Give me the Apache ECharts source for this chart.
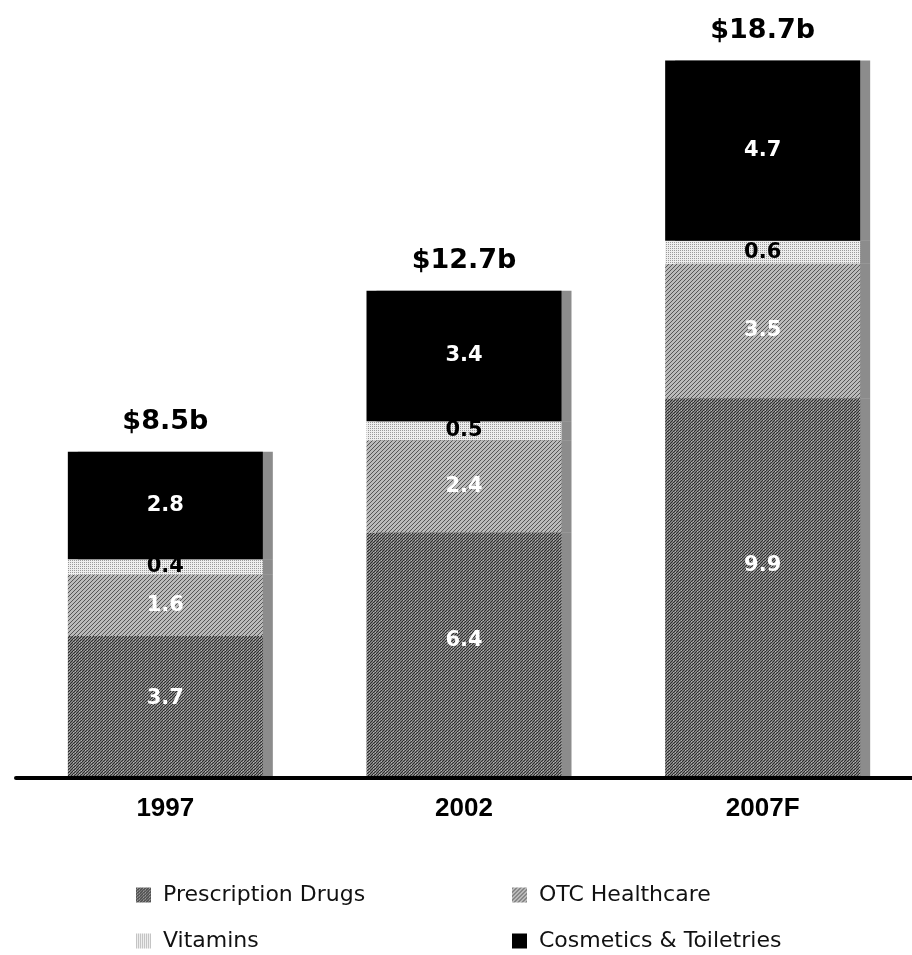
<!DOCTYPE html>
<html>
<head>
<meta charset="utf-8">
<script src="https://cdn.jsdelivr.net/npm/echarts@6/dist/echarts.min.js"></script>
<style>
  html, body { margin: 0; padding: 0; background: #fff; }
  #chart { width: 912px; height: 955px; }
</style>
</head>
<body>
<div id="chart"></div>
<script>
var years = ['1997', '2002', '2007F']
var prescription = [3.7, 6.4, 9.9]
var otc = [1.6, 2.4, 3.5]
var vitamins = [0.4, 0.5, 0.6]
var cosmetics = [2.8, 3.4, 4.7]
var totalLabels = ['$8.5b', '$12.7b', '$18.7b']

var chart = echarts.init(document.getElementById('chart'))

var boldFont = "'DejaVu Sans', Verdana, sans-serif"

// small tiled canvas used as a dithered fill
function makePattern (size, base, dots) {
  var c = document.createElement('canvas')
  c.width = size
  c.height = size
  var ctx = c.getContext('2d')
  ctx.fillStyle = base
  ctx.fillRect(0, 0, size, size)
  for (var y = 0; y < size; y++) {
    for (var x = 0; x < size; x++) {
      var col = dots(x, y)
      if (col) {
        ctx.fillStyle = col
        ctx.fillRect(x, y, 1, 1)
      }
    }
  }
  return { image: c, repeat: 'repeat' }
}

var rxFill = makePattern(6, '#7e7e7e', function (x, y) {
  if ((x + y) % 3 === 0) return '#2c2c2c'
  if ((x + 2 * y) % 6 === 1) return '#b4b4b4'
  return null
})
var otcFill = makePattern(8, '#bababa', function (x, y) {
  if ((x + y) % 4 === 0) return '#555555'
  return null
})
var vitFill = makePattern(4, '#eeeeee', function (x, y) {
  if (x % 2 === 0 && y % 2 === 0) return '#9a9a9a'
  return null
})

function barStyle (color) {
  return {
    color: color,
    shadowColor: 'rgba(0,0,0,0.45)',
    shadowOffsetX: 10,
    shadowOffsetY: 0,
    shadowBlur: 0
  }
}

function insideLabel (color) {
  return {
    show: true,
    position: 'inside',
    color: color,
    fontFamily: boldFont,
    fontWeight: 'bold',
    fontSize: 21
  }
}

var legendText = {
  fontFamily: boldFont,
  fontSize: 22,
  color: '#111',
  lineHeight: 22,
  padding: [0, 0, 0, 7]
}

var rxLabel = insideLabel('#fff')
rxLabel.position = ['50%', '44%']
rxLabel.align = 'center'
rxLabel.verticalAlign = 'middle'

var option = {
  backgroundColor: '#fff',
  animation: false,
  grid: { left: 16, right: 0, top: 49, height: 729 },
  xAxis: {
    type: 'category',
    data: years,
    z: 10,
    axisLine: { lineStyle: { color: '#000', width: 4 } },
    axisTick: { show: false },
    axisLabel: {
      margin: 18,
      color: '#000',
      fontFamily: "'Liberation Sans', Arial, sans-serif",
      fontWeight: 'bold',
      fontSize: 26
    }
  },
  yAxis: {
    type: 'value',
    min: 0,
    max: 19,
    show: false,
    splitLine: { show: false }
  },
  legend: [{
    orient: 'vertical',
    left: 136,
    top: 884,
    padding: 0,
    itemWidth: 15,
    itemHeight: 15,
    itemGap: 24,
    icon: 'rect',
    data: ['Prescription Drugs', 'Vitamins'],
    textStyle: legendText
  }, {
    orient: 'vertical',
    left: 512,
    top: 884,
    padding: 0,
    itemWidth: 15,
    itemHeight: 15,
    itemGap: 24,
    icon: 'rect',
    data: ['OTC Healthcare', 'Cosmetics & Toiletries'],
    textStyle: legendText
  }],
  series: [{
    name: 'Prescription Drugs',
    type: 'bar',
    stack: 'total',
    barWidth: 195,
    data: prescription,
    itemStyle: barStyle(rxFill),
    label: rxLabel
  }, {
    name: 'OTC Healthcare',
    type: 'bar',
    stack: 'total',
    barWidth: 195,
    data: otc,
    itemStyle: barStyle(otcFill),
    label: insideLabel('#fff')
  }, {
    name: 'Vitamins',
    type: 'bar',
    stack: 'total',
    barWidth: 195,
    data: vitamins,
    itemStyle: barStyle(vitFill),
    label: insideLabel('#000')
  }, {
    name: 'Cosmetics & Toiletries',
    type: 'bar',
    stack: 'total',
    barWidth: 195,
    data: cosmetics,
    itemStyle: barStyle('#000'),
    label: insideLabel('#fff')
  }, {
    // zero-height cap that carries the total above each bar
    name: 'total',
    type: 'bar',
    stack: 'total',
    barWidth: 195,
    data: years.map(function () { return 0 }),
    itemStyle: { color: 'transparent' },
    label: {
      show: true,
      position: 'top',
      distance: 16,
      formatter: function (p) { return totalLabels[p.dataIndex] },
      color: '#000',
      fontFamily: boldFont,
      fontWeight: 'bold',
      fontSize: 27
    }
  }]
}

chart.setOption(option)
</script>
</body>
</html>
